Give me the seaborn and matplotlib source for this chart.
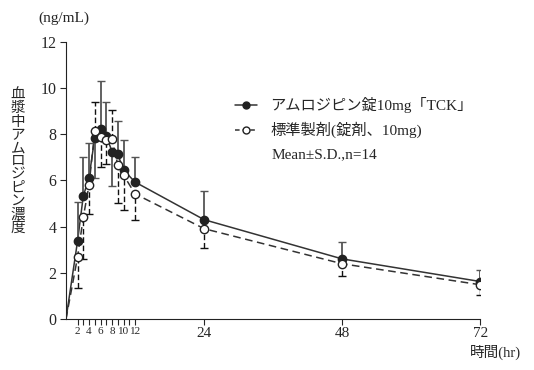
import numpy as np
import pandas as pd
import matplotlib
matplotlib.use("Agg")
import matplotlib.pyplot as plt
import seaborn as sns
from matplotlib.lines import Line2D

# sampling times (hr) and mean plasma concentration (ng/mL)
hours = [0, 2, 3, 4, 5, 6, 7, 8, 9, 10, 12, 24, 48, 72]
tck_mean = [0, 3.36, 5.32, 6.12, 7.86, 8.25, 7.93, 7.25, 7.13, 6.45, 5.93, 4.30, 2.60, 1.62]
tck_sd = [0, 1.71, 1.69, 1.52, 1.74, 2.07, 1.49, 1.50, 1.45, 1.29, 1.10, 1.23, 0.72, 0.48]
std_mean = [0, 2.67, 4.40, 5.80, 8.14, 7.88, 7.75, 7.81, 6.66, 6.23, 5.42, 3.91, 2.39, 1.48]
std_sd = [0, 1.34, 1.79, 1.25, 1.24, 1.28, 1.05, 1.26, 1.63, 1.49, 1.12, 0.84, 0.55, 0.44]

label_tck = "アムロジピン錠10mg「TCK」"
label_std = "標準製剤(錠剤、10mg)"
note = "Mean±S.D.,n=14"
ylabel_chars = "血漿中アムロジピン濃度"

sns.set_style("ticks")
fonts = ["Liberation Serif", "Noto Sans CJK JP"]
plt.rcParams["font.family"] = fonts

df = pd.DataFrame({"hr": hours, "tck": tck_mean, "std": std_mean})

fig = plt.figure(figsize=(5.34, 3.70), dpi=100)
ax = fig.add_axes([0.1236, 0.138, 0.776, 0.7486])

sns.lineplot(x="hr", y="tck", data=df, ax=ax, color="#333333", lw=1.1, zorder=2)
sns.lineplot(x="hr", y="std", data=df, ax=ax, color="#333333", lw=1.1,
             linestyle=(0, (5, 3)), zorder=2)

# one-sided error bars: the higher series points up, the lower one down
t_m, s_m = np.array(tck_mean), np.array(std_mean)
t_sd, s_sd = np.array(tck_sd), np.array(std_sd)
up = t_m >= s_m
tck_err = [np.where(up, 0, t_sd), np.where(up, t_sd, 0)]
std_err = [np.where(up, s_sd, 0), np.where(up, 0, s_sd)]

eb1 = ax.errorbar(hours[1:], tck_mean[1:], yerr=[e[1:] for e in tck_err], fmt="none",
                  ecolor="#555555", elinewidth=1.3, capsize=3, capthick=1.0, zorder=3)
eb2 = ax.errorbar(hours[1:], std_mean[1:], yerr=[e[1:] for e in std_err], fmt="none",
                  ecolor="#111111", elinewidth=1.0, capsize=3, capthick=1.0, zorder=3)
eb2[2][0].set_linestyle((0, (4, 2)))

ax.plot(hours[1:], tck_mean[1:], "o", ms=6, mfc="#222222", mec="#222222", zorder=4)
ax.plot(hours[1:], std_mean[1:], "o", ms=6, mfc="white", mec="#222222", mew=1.0, zorder=5)

ax.set_xlim(0, 72)
ax.set_ylim(0, 12)
ax.set_yticks(range(0, 13, 2))
ax.set_xticks([2, 4, 6, 8, 10, 12, 24, 48, 72])
ax.set_xticklabels(["2", "4", "6", "8", "10", "12", "24", "48", "72"])
ax.set_xticks([3, 5, 7, 9, 11], minor=True)
ax.tick_params(axis="x", which="both", direction="out", length=4, width=0.8, labelsize=11, pad=2)
ax.tick_params(axis="y", direction="out", length=4, width=0.8, labelsize=11.5, pad=3)
for lbl in ax.get_xticklabels()[:6]:
    lbl.set_fontsize(8)
ax.set_xlabel("")
ax.set_ylabel("")
sns.despine(ax=ax)
for sp in ["left", "bottom"]:
    ax.spines[sp].set_linewidth(0.8)
    ax.spines[sp].set_color("#222222")

# texts
fig.text(38 / 534, 1 - 18 / 370, "(ng/mL)", fontsize=11, va="center", ha="left")
fig.text(521 / 534, 1 - 352 / 370, "時間(hr)", fontsize=10.5, va="center", ha="right")
fig.text(18 / 534, 1 - 162 / 370, "\n".join(ylabel_chars), fontsize=10.5, va="center",
         ha="center", linespacing=1.02)

h1 = Line2D([], [], color="#333333", lw=1.1, marker="o", ms=5, mfc="#222222", mec="#222222")
h2 = Line2D([], [], color="#333333", lw=1.1, linestyle=(0, (3, 2)), marker="o", ms=5,
            mfc="white", mec="#222222")
ax.legend([h1, h2], [label_tck, label_std], loc="upper left", bbox_to_anchor=(0.375, 0.85),
          frameon=False, fontsize=11, handlelength=1.4, handletextpad=0.9, labelspacing=0.55)
ax.text(0.497, 0.592, note, transform=ax.transAxes, fontsize=11, va="center", ha="left")

fig.savefig("out.png", dpi=100)
